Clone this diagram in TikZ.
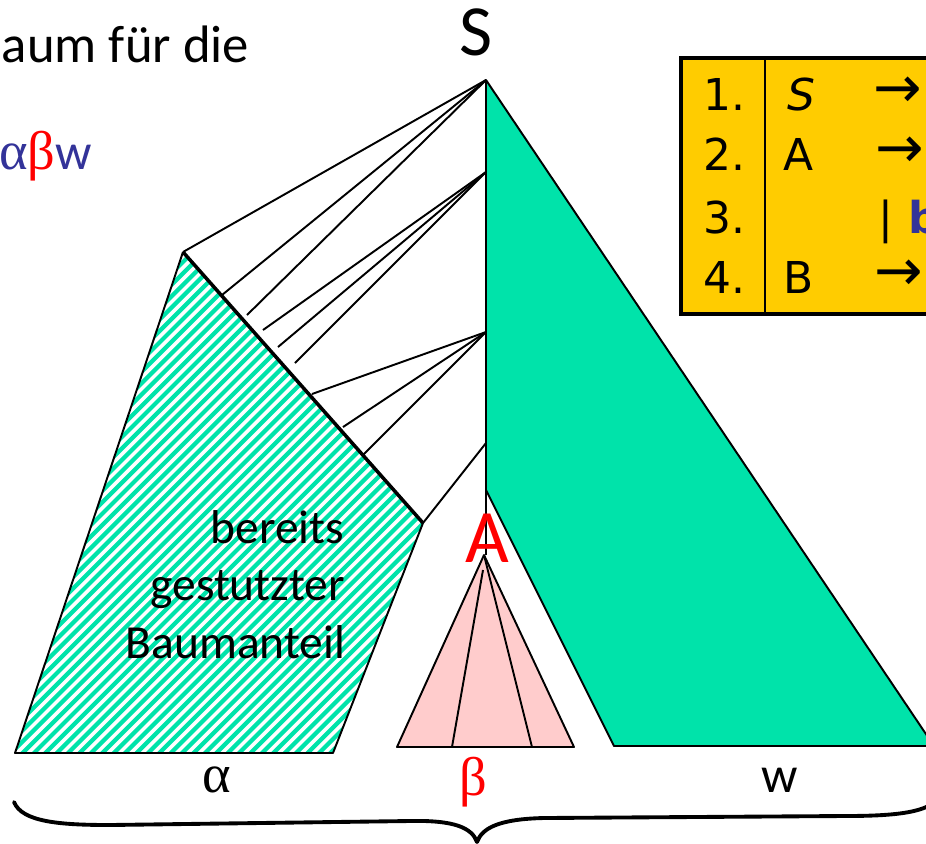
\documentclass[tikz,border=0pt]{standalone}
\usepackage{fontspec}
\setmainfont{Carlito}
\newfontfamily\tabfont{DejaVu Sans}
\newfontfamily\grk{Liberation Serif}
\definecolor{tgreen}{RGB}{0,227,170}
\definecolor{tpink}{RGB}{255,204,204}
\definecolor{tyellow}{RGB}{255,204,0}
\definecolor{tblue}{RGB}{51,51,153}
\tikzset{
  edge/.style={draw=black,line width=1.1pt,line join=round},
  thickedge/.style={draw=black,line width=2pt},
  stripe/.style={draw=tgreen,line width=2.4pt},
  txt/.style={inner sep=0pt,outer sep=0pt},
  bigtxt/.style={txt,font=\fontsize{27}{33}\selectfont},
  tabtxt/.style={txt,font=\tabfont\fontsize{25}{30}\selectfont},
  arrtxt/.style={txt,font=\tabfont\fontsize{33}{36}\selectfont},
  grktxt/.style={txt,font=\grk\fontsize{31}{35}\selectfont},
  bracestyle/.style={draw=black,line width=2.2pt,line cap=round,line join=round}
}
\begin{document}
\begin{tikzpicture}[x=0.02cm,y=-0.02cm]
\clip (0,0) rectangle (926,843);
\fill[white] (0,0) rectangle (926,843);
% coordinates
\coordinate (S) at (486,80);
\coordinate (n2) at (486,172);
\coordinate (n3) at (486,332);
\coordinate (n4) at (486,443);
\coordinate (gk) at (486,490);
\coordinate (Ak) at (486,555);
\coordinate (gbl) at (614,746);
\coordinate (gbr) at (934,746);
\coordinate (h1) at (183,252);
\coordinate (h2) at (423,523);
\coordinate (h3) at (333,753);
\coordinate (h4) at (15,753);
% green subtree w
\filldraw[fill=tgreen,edge] (S) -- (gk) -- (gbl) -- (gbr) -- cycle;
% hatched part
\begin{scope}
\clip (h1) -- (h2) -- (h3) -- (h4) -- cycle;
\foreach \i in {-600,-588.6,...,450} {
  \draw[stripe] (\i,760) -- ++(520,-520);
}
\end{scope}
\draw[edge] (h2) -- (h3) -- (h4) -- (h1);
\draw[thickedge] (h1) -- (h2);
% spine
\draw[edge] (S) -- (Ak);
% branches
\coordinate (e1) at (222,295);
\coordinate (e2) at (247,315);
\coordinate (e3) at (263,330);
\coordinate (e4) at (278,347);
\coordinate (e5) at (295,363);
\coordinate (e6) at (312,394);
\coordinate (e7) at (343,427);
\coordinate (e8) at (362,456);
\draw[edge] (S) -- (h1);
\draw[edge] (S) -- (e1);
\draw[edge] (S) -- (e2);
\draw[edge] (n2) -- (e3);
\draw[edge] (n2) -- (e4);
\draw[edge] (n2) -- (e5);
\draw[edge] (n3) -- (e6);
\draw[edge] (n3) -- (e7);
\draw[edge] (n3) -- (e8);
\draw[edge] (n4) -- (h2);
% pink subtree beta
\coordinate (pa) at (484,555);
\coordinate (pl) at (397,747);
\coordinate (pr) at (574,747);
\coordinate (pi1s) at (483,570);
\coordinate (pi1) at (452,747);
\coordinate (pi2) at (532,747);
\filldraw[fill=tpink,edge] (pa) -- (pl) -- (pr) -- cycle;
\draw[edge] (pi1s) -- (pi1);
\draw[edge] (pa) -- (pi2);
% labels
\node[txt,anchor=base,font=\fontsize{41}{45}\selectfont] (Slbl) at (476,55) {S};
\node[txt,anchor=base,text=red,font=\fontsize{43}{47}\selectfont] (Albl) at (487,562) {A};
\node[bigtxt,anchor=base east] (t1) at (344,543) {bereits};
\node[bigtxt,anchor=base east] (t2) at (345,600) {gestutzter};
\node[bigtxt,anchor=base east] (t3) at (345,658) {Baumanteil};
\node[grktxt,anchor=base] (la) at (217,792) {α};
\node[grktxt,anchor=base,text=red] (lb) at (473,795) {β};
\node[txt,anchor=base,font=\fontsize{29}{33}\selectfont] (lw) at (780,792) {w};
% top-left text
\node[txt,anchor=base west,font=\fontsize{30}{34}\selectfont] (top) at (2,62) {aum für die};
\node[txt,anchor=base west] (abw) at (-1,169) {{\grk\fontsize{31}{35}\selectfont\color{tblue}α}{\grk\fontsize{31}{35}\selectfont\color{red}β}{\fontsize{29}{33}\selectfont\color{tblue}w}};
% brace
\draw[bracestyle] (14,802) .. controls (22,822) and (60,825) .. (110,825) -- (410,821) .. controls (455,820) and (472,828) .. (477,842) .. controls (482,828) and (499,819) .. (544,818) -- (844,816) .. controls (894,816) and (932,813) .. (940,795);
% table
\filldraw[fill=tyellow,draw=black,line width=2.8pt] (681,58) rectangle (1000,314);
\draw[black,line width=1.2pt] (765,58) -- (765,314);
\node[tabtxt,anchor=base east] (r1) at (745,110) {1.};
\node[tabtxt,anchor=base east] (r2) at (745,170) {2.};
\node[tabtxt,anchor=base east] (r3) at (745,233) {3.};
\node[tabtxt,anchor=base east] (r4) at (745,293) {4.};
\node[tabtxt,anchor=base west] (c1) at (787,110) {\itshape S};
\node[tabtxt,anchor=base west] (c2) at (783,170) {A};
\node[tabtxt,anchor=base west] (c4) at (783,293) {B};
\node[arrtxt,anchor=base west] (a1) at (873,107) {→};
\node[arrtxt,anchor=base west] (a2) at (875,167) {→};
\node[tabtxt,anchor=base west] (bar) at (878,233) {|};
\node[tabtxt,anchor=base west,text=tblue] (b3) at (908,233) {\bfseries b};
\node[arrtxt,anchor=base west] (a4) at (874,290) {→};
\end{tikzpicture}
\end{document}
